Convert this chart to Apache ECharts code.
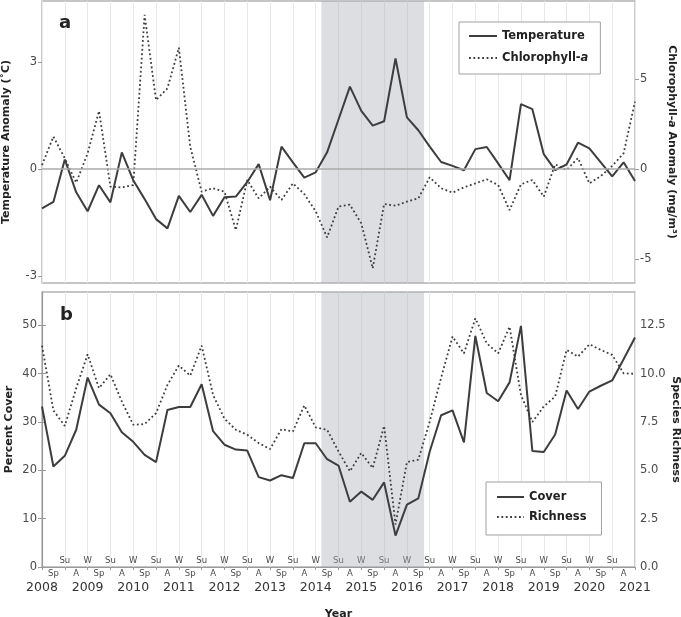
<!DOCTYPE html>
<html>
<head>
<meta charset="utf-8">
<script src="https://cdn.jsdelivr.net/npm/echarts@6/dist/echarts.min.js"></script>
<style>
html,body{margin:0;padding:0;background:#fff;}
#chart{width:681px;height:617px;}
</style>
</head>
<body>
<div id="chart"></div>
<script>
// ---- data (one value per season, 2008 W .. 2021 W) ----
const seasonCycle = ['W', 'Sp', 'Su', 'A'];
const yearLabels = ['2008','2009','2010','2011','2012','2013','2014','2015','2016','2017','2018','2019','2020','2021'];
const heatwavePeriod = [24.5, 33.5];

const temperature = [-1.10,-0.92,0.27,-0.65,-1.18,-0.45,-0.93,0.47,-0.31,-0.84,
  -1.40,-1.66,-0.75,-1.20,-0.72,-1.31,-0.79,-0.77,-0.36,0.14,
  -0.87,0.63,0.19,-0.24,-0.09,0.47,1.39,2.31,1.63,1.22,
  1.34,3.10,1.45,1.09,0.63,0.20,0.09,-0.03,0.56,0.62,
  0.16,-0.31,1.82,1.68,0.42,-0.03,0.13,0.74,0.58,0.19,
  -0.20,0.19,-0.33];
const chlorophyll = [0.22,1.80,0.59,-0.76,0.87,3.22,-0.98,-1.02,-0.89,8.56,
  3.83,4.48,6.74,1.24,-1.26,-1.07,-1.26,-3.39,-0.61,-1.63,
  -0.98,-1.72,-0.80,-1.39,-2.35,-3.80,-2.09,-1.98,-3.02,-5.52,
  -1.94,-2.04,-1.81,-1.63,-0.46,-1.07,-1.31,-1.02,-0.80,-0.57,
  -0.89,-2.28,-0.85,-0.61,-1.54,0.26,-0.06,0.61,-0.80,-0.39,
  0.17,0.87,3.74];
const cover = [33.2,20.8,23.0,28.4,39.2,33.6,31.8,27.9,25.9,23.2,
  21.7,32.5,33.1,33.1,37.8,28.1,25.3,24.3,24.1,18.6,
  17.9,19.0,18.4,25.6,25.6,22.3,21.0,13.5,15.6,13.9,
  17.5,6.5,12.9,14.2,23.9,31.4,32.4,25.8,47.8,36.0,
  34.3,38.2,49.9,24.0,23.8,27.4,36.5,32.7,36.3,37.5,
  38.6,43.0,47.5];
const richness = [11.45,8.1,7.3,9.25,11.0,9.25,9.97,8.56,7.36,7.39,
  7.96,9.42,10.42,9.90,11.45,8.90,7.67,7.10,6.84,6.41,
  6.10,7.13,7.01,8.36,7.22,7.10,5.98,4.95,5.90,5.12,
  7.30,2.2,5.43,5.55,7.53,9.8,11.92,11.05,12.86,11.57,
  11.05,12.43,8.9,7.5,8.30,8.82,11.23,10.88,11.52,11.23,
  10.97,10.02,9.99];

const tempTicks = [-3, 0, 3];
const chlTicks = [-5, 0, 5];
const coverTicks = [0, 10, 20, 30, 40, 50];
const richTicks = [0, 2.5, 5, 7.5, 10, 12.5];

const nSeason = temperature.length - 1; // 52
const seasonLabels = temperature.map((_, i) => seasonCycle[i % 4]);

// ---- styling ----
const FONT = 'DejaVu Sans';
const LINE = '#3d3d3d';
const BORDER = '#b3b3b3';
const GRIDC = '#e8e8e8';
const TICKC = '#9a9a9a';
const LBL = '#4a4a4a';

const chart = echarts.init(document.getElementById('chart'), null, {renderer: 'canvas'});
const pairs = arr => arr.map((v, i) => [i, v]);

const yName = {fontFamily: FONT, fontWeight: 'bold', fontSize: 11, color: '#222',
  rich: {i: {fontStyle: 'italic', fontWeight: 'bold', fontSize: 11, color: '#222', fontFamily: FONT}}};
const yLabel = {fontFamily: FONT, fontSize: 11.5, color: LBL, margin: 5};
const yTick = {show: true, length: 4, lineStyle: {color: TICKC}};

const dotted = {type: [1.8, 2.6], width: 1.8, color: LINE, cap: 'butt'};
const solid = {type: 'solid', width: 2, color: LINE};
const noSymbol = {color: 'rgba(0,0,0,0)', borderColor: 'rgba(0,0,0,0)', borderWidth: 0, opacity: 0};

const option = {
  animation: false,
  textStyle: {fontFamily: FONT},
  title: [
    {text: 'a', left: 54, top: 9, textStyle: {fontFamily: FONT, fontWeight: 'bold', fontSize: 18, color: '#222'}},
    {text: 'b', left: 55, top: 301, textStyle: {fontFamily: FONT, fontWeight: 'bold', fontSize: 18, color: '#222'}}
  ],
  grid: [
    {left: 42, right: 46, top: 1, height: 282, outerBoundsMode: 'none', containLabel: false,
      show: true, borderColor: BORDER, borderWidth: 1.3, backgroundColor: 'rgba(0,0,0,0)'},
    {left: 42, right: 46, top: 292, height: 275, outerBoundsMode: 'none', containLabel: false,
      show: true, borderColor: BORDER, borderWidth: 1.3, backgroundColor: 'rgba(0,0,0,0)'}
  ],
  legend: [
    {
      data: ['Temperature', 'Chlorophyll-a'],
      left: 459, top: 22, orient: 'vertical',
      itemWidth: 28, itemHeight: 14, itemGap: 10,
      padding: [8, 12, 10, 9],
      itemStyle: noSymbol,
      borderColor: '#a0a0a0', borderWidth: 1, backgroundColor: '#fff',
      formatter: n => n === 'Chlorophyll-a' ? 'Chlorophyll-{i|a}' : n,
      textStyle: {fontFamily: FONT, fontWeight: 'bold', fontSize: 11.5, color: '#222',
        rich: {i: {fontStyle: 'italic', fontWeight: 'bold', fontSize: 11.5, color: '#222', fontFamily: FONT}}}
    },
    {
      data: ['Cover', 'Richness'],
      left: 486, top: 482, orient: 'vertical',
      itemWidth: 27, itemHeight: 14, itemGap: 8,
      padding: [9, 15, 12, 10],
      itemStyle: noSymbol,
      borderColor: '#a0a0a0', borderWidth: 1, backgroundColor: '#fff',
      textStyle: {fontFamily: FONT, fontWeight: 'bold', fontSize: 11.5, color: '#222'}
    }
  ],
  xAxis: [
    {gridIndex: 0, type: 'value', min: 0, max: nSeason, interval: 2,
      axisLine: {show: false}, axisTick: {show: false}, axisLabel: {show: false},
      splitLine: {show: true, lineStyle: {color: GRIDC, width: 1}}},
    {gridIndex: 1, type: 'value', min: 0, max: nSeason, interval: 2,
      axisLine: {show: true, onZero: false, lineStyle: {color: TICKC, width: 1.2}},
      axisTick: {show: true, length: 3, lineStyle: {color: TICKC}},
      axisLabel: {inside: true, margin: 2, fontFamily: FONT, fontSize: 8.5, color: LBL,
        showMinLabel: true, showMaxLabel: true,
        formatter: v => (v > 0 && v < nSeason) ? seasonLabels[v] : ''},
      splitLine: {show: true, lineStyle: {color: GRIDC, width: 1}},
      name: 'Year', nameLocation: 'middle', nameGap: 42, nameMoveOverlap: false,
      nameTextStyle: {fontFamily: FONT, fontWeight: 'bold', fontSize: 11, color: '#222'}},
    {gridIndex: 1, type: 'value', min: 0, max: nSeason, interval: 1, position: 'bottom',
      axisLine: {show: false}, axisTick: {show: false}, splitLine: {show: false},
      axisLabel: {margin: 2, fontFamily: FONT, fontSize: 8.5, color: LBL,
        showMinLabel: true, showMaxLabel: true,
        formatter: v => (v % 2 === 1) ? seasonLabels[v] : ''}},
    {gridIndex: 1, type: 'value', min: 0, max: nSeason, interval: 4, position: 'bottom', offset: 12,
      axisLine: {show: false}, axisTick: {show: false}, splitLine: {show: false},
      axisLabel: {margin: 2, fontFamily: FONT, fontSize: 12.5, color: '#333',
        showMinLabel: true, showMaxLabel: true,
        formatter: v => yearLabels[v / 4] || ''}}
  ],
  yAxis: [
    {gridIndex: 0, type: 'value', min: -3.19, max: 4.71, position: 'left',
      axisLine: {show: false}, splitLine: {show: false},
      axisTick: Object.assign({customValues: tempTicks}, yTick),
      axisLabel: Object.assign({customValues: tempTicks}, yLabel),
      name: 'Temperature Anomaly (˚C)', nameLocation: 'middle', nameGap: 30, nameMoveOverlap: false, nameTextStyle: yName},
    {gridIndex: 0, type: 'value', min: -6.33, max: 9.33, position: 'right',
      axisLine: {show: false}, splitLine: {show: false},
      axisTick: Object.assign({customValues: chlTicks}, yTick),
      axisLabel: Object.assign({customValues: chlTicks}, yLabel),
      name: 'Chlorophyll-{i|a} Anomaly (mg/m³)', nameLocation: 'middle', nameRotate: -90, nameGap: 31, nameMoveOverlap: false, nameTextStyle: yName},
    {gridIndex: 1, type: 'value', min: 0, max: 56.9, position: 'left',
      axisLine: {show: true, lineStyle: {color: TICKC, width: 1.2}}, splitLine: {show: false},
      axisTick: Object.assign({customValues: coverTicks}, yTick),
      axisLabel: Object.assign({customValues: coverTicks}, yLabel),
      name: 'Percent Cover', nameLocation: 'middle', nameGap: 27, nameMoveOverlap: false, nameTextStyle: yName},
    {gridIndex: 1, type: 'value', min: 0, max: 14.225, position: 'right',
      axisLine: {show: false}, splitLine: {show: false},
      axisTick: Object.assign({customValues: richTicks}, yTick),
      axisLabel: Object.assign({customValues: richTicks, formatter: v => v.toFixed(1)}, yLabel),
      name: 'Species Richness', nameLocation: 'middle', nameRotate: -90, nameGap: 35, nameMoveOverlap: false, nameTextStyle: yName}
  ],
  series: [
    {name: 'Temperature', type: 'line', xAxisIndex: 0, yAxisIndex: 0, data: pairs(temperature),
      symbol: 'none', showSymbol: false, lineStyle: solid, itemStyle: {color: LINE}, z: 3,
      markArea: {silent: true, itemStyle: {color: 'rgba(170,172,182,0.4)'},
        data: [[{xAxis: heatwavePeriod[0]}, {xAxis: heatwavePeriod[1]}]]},
      markLine: {silent: true, symbol: 'none', label: {show: false},
        lineStyle: {color: '#aaaaaa', width: 1.5, type: 'solid'}, data: [{yAxis: 0}]}},
    {name: 'Chlorophyll-a', type: 'line', xAxisIndex: 0, yAxisIndex: 1, data: pairs(chlorophyll),
      symbol: 'none', showSymbol: false, lineStyle: dotted, itemStyle: {color: LINE}, z: 3},
    {name: 'Cover', type: 'line', xAxisIndex: 1, yAxisIndex: 2, data: pairs(cover),
      symbol: 'none', showSymbol: false, lineStyle: solid, itemStyle: {color: LINE}, z: 3,
      markArea: {silent: true, itemStyle: {color: 'rgba(170,172,182,0.4)'},
        data: [[{xAxis: heatwavePeriod[0]}, {xAxis: heatwavePeriod[1]}]]}},
    {name: 'Richness', type: 'line', xAxisIndex: 1, yAxisIndex: 3, data: pairs(richness),
      symbol: 'none', showSymbol: false, lineStyle: dotted, itemStyle: {color: LINE}, z: 3}
  ]
};
chart.setOption(option);
</script>
</body>
</html>
